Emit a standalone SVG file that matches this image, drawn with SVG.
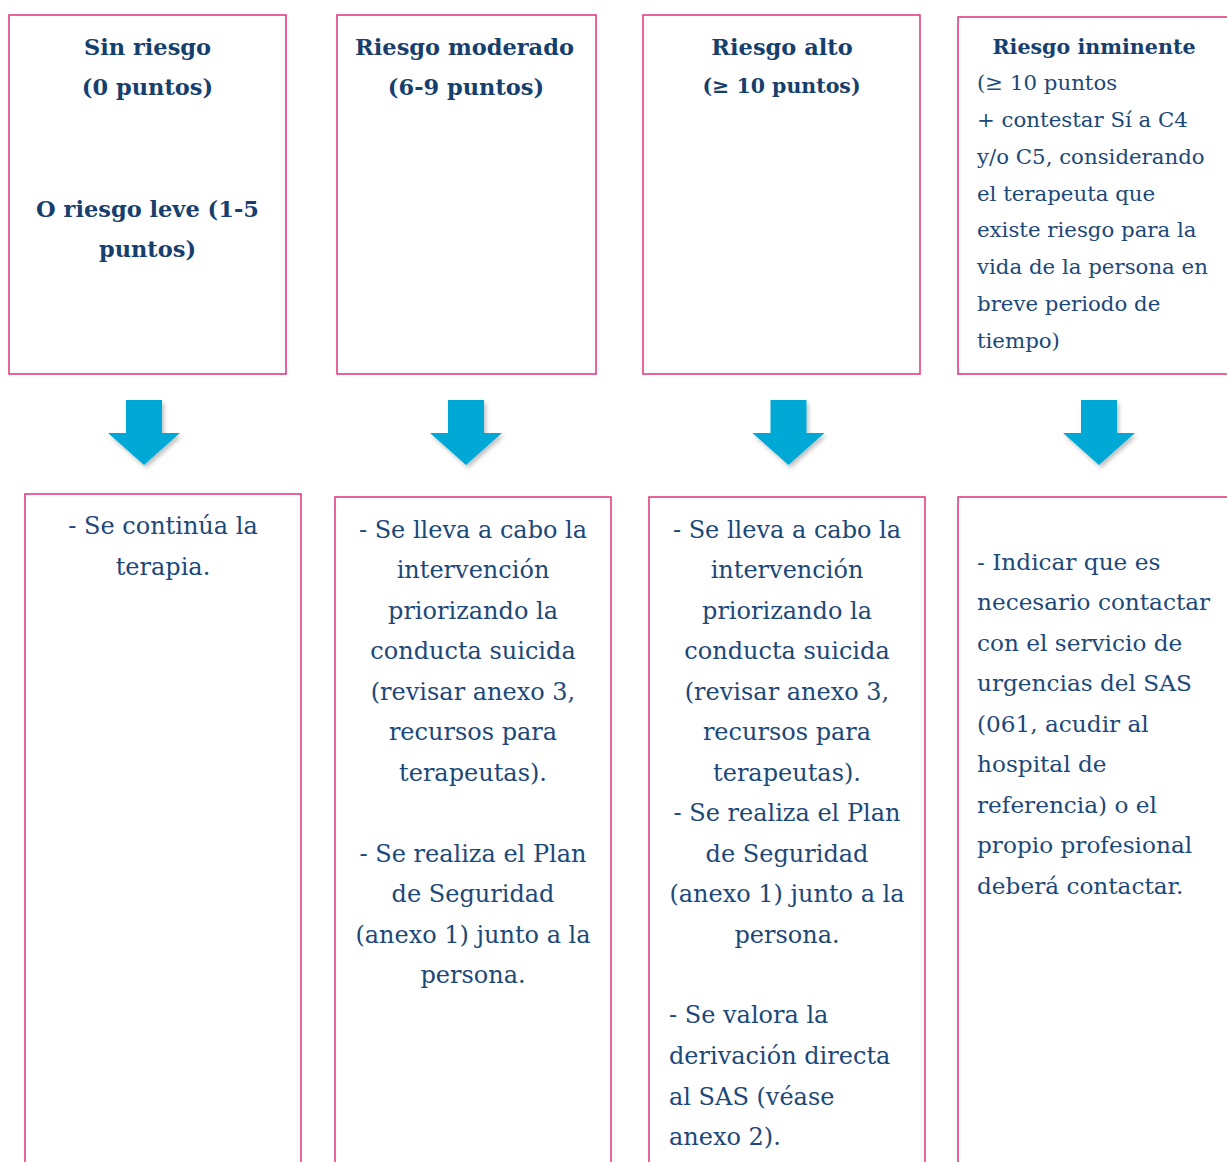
<svg xmlns="http://www.w3.org/2000/svg" width="1227" height="1162" viewBox="0 0 1227 1162">
<style>
.box{fill:#fff;stroke:#e3307b;stroke-width:1.5}
.t{font-family:"DejaVu Serif","Liberation Serif",serif;fill:#1c4878}
.h{font-size:22.5px;font-weight:bold;text-anchor:middle;fill:#173f6e}
.h4{font-size:20.6px;font-weight:bold;text-anchor:middle;fill:#173f6e}
.s{font-size:21.3px}
.b{font-size:24px}
.b8{font-size:23.2px}
.c{text-anchor:middle}
.arrow{fill:#04a9d5;filter:url(#sh)}
</style>
<defs>
<filter id="sh" x="-30%" y="-30%" width="160%" height="160%">
<feDropShadow dx="2" dy="3" stdDeviation="2" flood-color="#000" flood-opacity="0.25"/>
</filter>
<path id="arr" d="M-18,0 H18 V33 H36 L0,65 L-36,33 H-18 Z"/>
</defs>

<g id="node-sin-riesgo">
<rect class="box" x="9" y="15" width="277" height="359"/>
<text class="t h" x="147.5" y="55">Sin riesgo</text>
<text class="t h" x="147.5" y="95">(0 puntos)</text>
<text class="t h" x="147.5" y="217">O riesgo leve (1-5</text>
<text class="t h" x="147.5" y="257">puntos)</text>
</g>

<g id="node-riesgo-moderado">
<rect class="box" x="337" y="15" width="259" height="359"/>
<text class="t h" x="464.5" y="55">Riesgo moderado</text>
<text class="t h" x="466" y="95">(6-9 puntos)</text>
</g>

<g id="node-riesgo-alto">
<rect class="box" x="643" y="15" width="277" height="359"/>
<text class="t h" x="782" y="55">Riesgo alto</text>
<text class="t h" x="781.5" y="93" style="font-size:20.5px">(≥ 10 puntos)</text>
</g>

<g id="node-riesgo-inminente">
<rect class="box" x="958" y="17" width="290" height="357"/>
<text class="t h4" x="1094" y="54">Riesgo inminente</text>
<text class="t s" x="977" y="90">(≥ 10 puntos</text>
<text class="t s" x="977" y="127">+ contestar Sí a C4</text>
<text class="t s" x="977" y="164">y/o C5, considerando</text>
<text class="t s" x="977" y="201">el terapeuta que</text>
<text class="t s" x="977" y="237">existe riesgo para la</text>
<text class="t s" x="977" y="274">vida de la persona en</text>
<text class="t s" x="977" y="311">breve periodo de</text>
<text class="t s" x="977" y="348">tiempo)</text>
</g>

<g id="connectors">
<use href="#arr" class="arrow" x="144" y="400"/>
<use href="#arr" class="arrow" x="466" y="400"/>
<use href="#arr" class="arrow" x="788.5" y="400"/>
<use href="#arr" class="arrow" x="1099" y="400"/>
</g>

<g id="node-accion-sin-riesgo">
<rect class="box" x="25" y="494" width="276" height="720"/>
<text class="t b c" x="163" y="534">- Se continúa la</text>
<text class="t b c" x="163" y="575">terapia.</text>
</g>

<g id="node-accion-moderado">
<rect class="box" x="335" y="497" width="276" height="720"/>
<text class="t b c" x="473" y="538">- Se lleva a cabo la</text>
<text class="t b c" x="473" y="578">intervención</text>
<text class="t b c" x="473" y="619">priorizando la</text>
<text class="t b c" x="473" y="659">conducta suicida</text>
<text class="t b c" x="473" y="700">(revisar anexo 3,</text>
<text class="t b c" x="473" y="740">recursos para</text>
<text class="t b c" x="473" y="781">terapeutas).</text>
<text class="t b c" x="473" y="862">- Se realiza el Plan</text>
<text class="t b c" x="473" y="902">de Seguridad</text>
<text class="t b c" x="473" y="943">(anexo 1) junto a la</text>
<text class="t b c" x="473" y="983">persona.</text>
</g>

<g id="node-accion-alto">
<rect class="box" x="649" y="497" width="276" height="720"/>
<text class="t b c" x="787" y="538">- Se lleva a cabo la</text>
<text class="t b c" x="787" y="578">intervención</text>
<text class="t b c" x="787" y="619">priorizando la</text>
<text class="t b c" x="787" y="659">conducta suicida</text>
<text class="t b c" x="787" y="700">(revisar anexo 3,</text>
<text class="t b c" x="787" y="740">recursos para</text>
<text class="t b c" x="787" y="781">terapeutas).</text>
<text class="t b c" x="787" y="821">- Se realiza el Plan</text>
<text class="t b c" x="787" y="862">de Seguridad</text>
<text class="t b c" x="787" y="902">(anexo 1) junto a la</text>
<text class="t b c" x="787" y="943">persona.</text>
<text class="t b" x="669" y="1023">- Se valora la</text>
<text class="t b" x="669" y="1064">derivación directa</text>
<text class="t b" x="669" y="1105">al SAS (véase</text>
<text class="t b" x="669" y="1145">anexo 2).</text>
</g>

<g id="node-accion-inminente">
<rect class="box" x="958" y="497" width="290" height="720"/>
<text class="t b8" x="977" y="570">- Indicar que es</text>
<text class="t b8" x="977" y="610">necesario contactar</text>
<text class="t b8" x="977" y="651">con el servicio de</text>
<text class="t b8" x="977" y="691">urgencias del SAS</text>
<text class="t b8" x="977" y="732">(061, acudir al</text>
<text class="t b8" x="977" y="772">hospital de</text>
<text class="t b8" x="977" y="813">referencia) o el</text>
<text class="t b8" x="977" y="853">propio profesional</text>
<text class="t b8" x="977" y="894">deberá contactar.</text>
</g>
</svg>
